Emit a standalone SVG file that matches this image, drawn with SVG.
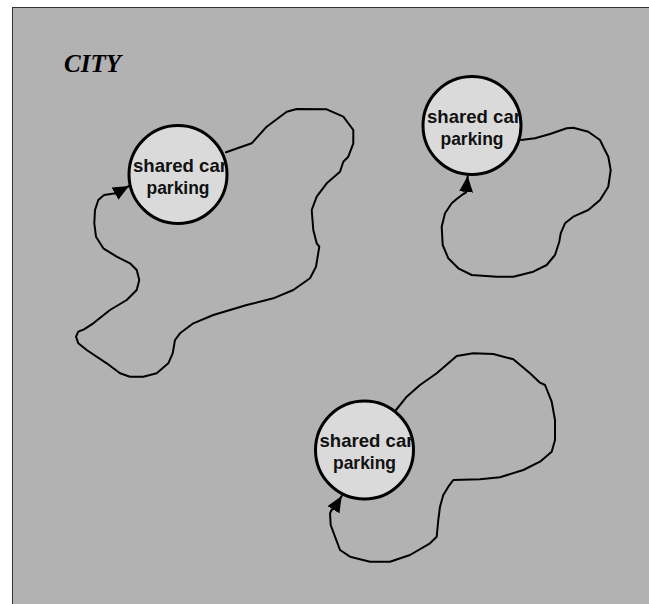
<svg xmlns="http://www.w3.org/2000/svg" width="649" height="604" viewBox="0 0 649 604">
<defs>
<style>
.bg{fill:#b2b2b2;stroke:#333;stroke-width:1}
.node circle{fill:#dadada;stroke:#000;stroke-width:3}
.node text{font-family:"Liberation Sans",Arial,sans-serif;font-weight:bold;font-size:19px;fill:#111;text-anchor:middle}
.loop{fill:none;stroke:#000;stroke-width:2;stroke-linejoin:round;stroke-linecap:round;marker-end:url(#arrow)}
.title{font-family:"Liberation Serif","Times New Roman",serif;font-weight:bold;font-style:italic;font-size:26px;fill:#000}
</style>
<marker id="arrow" markerUnits="userSpaceOnUse" markerWidth="17" markerHeight="15" refX="16" refY="7" orient="auto">
<path d="M0,0 L16,7 L0,14 Z" fill="#000"/>
</marker>
</defs>
<rect class="bg" x="12.5" y="7.5" width="660" height="620"/>
<text class="title" x="64" y="72" textLength="57" lengthAdjust="spacingAndGlyphs">CITY</text>
<g id="connectors">
<path class="loop" d="M226,152.3 L251.7,143.3 L266.7,126.7 L286.7,111.7 L296.7,109 L326.7,109.3 L343.3,116.7 L353.3,130 L353.3,143.3 L348.3,156.7 L343.3,161.7 L340,171.7 L326.7,183.3 L316.7,196.7 L311.7,210 L313.3,230 L316.7,243.3 L319.3,246.7 L316,266.7 L310,278.3 L293.3,290 L273.3,298.3 L246.7,305 L213.3,315 L193.3,323.3 L180,333.3 L175,340 L172.7,353.3 L168.3,363.3 L156.7,373.3 L143.3,376.7 L130,376.7 L120,373.3 L106.7,363.3 L86.7,350 L78.3,343.3 L76,336.7 L78.3,331.7 L84,329.3 L93.3,323.3 L110,310 L126.7,300 L136.7,290 L139.3,280 L136.7,270 L130,263.3 L116.7,256.7 L103.3,248.3 L96,236.7 L94.3,223.3 L95,210 L98.3,200 L104,195 L115.8,193.3 L129,186"/>
<path class="loop" d="M521,140 L535,138.3 L550,134 L566.7,128.3 L573.3,127.7 L588.3,131.7 L600,140 L604,148.3 L608.3,156.7 L610.7,170 L608.3,186.7 L600,200 L588.3,210 L573.3,216.7 L565,223.3 L560.7,233.3 L559.3,241.7 L555,255 L546.7,265 L533.3,271.7 L513.3,276.7 L496.7,276.7 L471.7,275 L458.3,268.3 L448.3,258.3 L442.7,245 L441.7,226.7 L445,213.3 L451.7,203.3 L456.7,199 L463.3,194 L466,192.7 L467.7,176"/>
<path class="loop" d="M396,410 L406.7,396.7 L420,385 L436.7,373.3 L456.7,356 L473.3,353.3 L493.3,354 L513.3,359.3 L530,373.3 L540,382.7 L545,385 L551.7,401.7 L555,420 L555,440 L551.7,451.7 L540,461.7 L523.3,470 L500,477.3 L480,479.3 L453.3,480 L448.3,486.7 L443.3,495 L440,506.7 L438.3,520 L436.7,536.7 L430,543.3 L410,555 L390,561.7 L370,561.7 L350,556.7 L340,550 L335,536.7 L330.7,525 L330,513.3 L331.5,510 L334,508.8 L341.7,496"/>
</g>
<g id="node1" class="node">
<circle cx="178" cy="174.5" r="49"/>
<text x="180" y="171.5" textLength="94" lengthAdjust="spacingAndGlyphs">shared car</text>
<text x="178" y="193.5" textLength="63" lengthAdjust="spacingAndGlyphs">parking</text>
</g>
<g id="node2" class="node">
<circle cx="472" cy="125.5" r="49"/>
<text x="474" y="122.5" textLength="94" lengthAdjust="spacingAndGlyphs">shared car</text>
<text x="472" y="144.5" textLength="63" lengthAdjust="spacingAndGlyphs">parking</text>
</g>
<g id="node3" class="node">
<circle cx="364.5" cy="450" r="49"/>
<text x="366.5" y="447" textLength="94" lengthAdjust="spacingAndGlyphs">shared car</text>
<text x="364.5" y="468.5" textLength="63" lengthAdjust="spacingAndGlyphs">parking</text>
</g>
</svg>
